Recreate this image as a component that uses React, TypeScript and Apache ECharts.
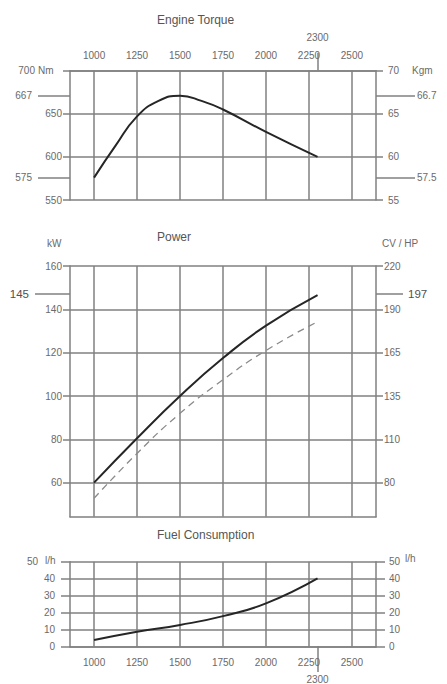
import React, { useEffect, useRef } from "react";
import * as echarts from "echarts";

// ---- data ----
const rpmTicks = [1000, 1250, 1500, 1750, 2000, 2250, 2500];
const ratedRpm = [2300];

const torqueRpm = [1000, 1125, 1250, 1375, 1500, 1625, 1750, 2000, 2300];
const torqueNm = [576, 613, 647, 665, 671, 665, 655, 629, 600];
const torqueNmTicks = [550, 600, 650, 700];
const torqueMarkPos = [671, 576];
const torqueMarkNm = ["667", "575"];
const torqueMarkKgm = ["66.7", "57.5"];

const powerRpm = [1000, 1250, 1500, 1750, 2000, 2300];
const powerKw = [60, 80.5, 100, 117.5, 132.5, 146.6];
const powerKwDashed = [52.8, 73.5, 92, 107.5, 121, 134.3];
const powerKwTicks = [60, 80, 100, 120, 140, 160];
const powerCvLabels = ["80", "110", "135", "165", "190", "220"];
const powerMarkPos = [147];
const powerMarkKw = ["145"];
const powerMarkCv = ["197"];

const fuelRpm = [1000, 1250, 1500, 1750, 2000, 2300];
const fuelLh = [3.9, 8.8, 12.8, 18, 25.5, 40.2];
const fuelTicks = [0, 10, 20, 30, 40, 50];

// ---- styles ----
const FONT = "Liberation Sans, Arial, sans-serif";
const gridLine = { color: "#808080", width: 1.5 };
const lbl = { color: "#6a6a6a", fontSize: 10, fontFamily: FONT };
const X_MIN = 860;
const X_MAX = 2640;

const zip = (a: number[], b: number[]) => a.map((v, i) => [v, b[i]]);

export default function App() {
  const ref = useRef<HTMLDivElement>(null);
  useEffect(() => {
    if (!ref.current) return;
    const chart = echarts.init(ref.current, undefined, { renderer: "svg" });

    const grids = [
      { left: 70, top: 70.7, width: 306, height: 129.3 },
      { left: 70, top: 70.7, width: 306, height: 129.3 },
      { left: 70, top: 266, width: 306, height: 250.7 },
      { left: 70, top: 266, width: 306, height: 250.7 },
      { left: 70, top: 561.7, width: 306, height: 85 },
      { left: 70, top: 561.7, width: 306, height: 85 },
    ];

    const hiddenX = (gridIndex: number) => ({
      gridIndex, type: "value", min: X_MIN, max: X_MAX, show: false,
    });

    const xAxis: any[] = [
      {
        gridIndex: 0, type: "value", position: "top", min: X_MIN, max: X_MAX,
        axisLine: { show: true, lineStyle: gridLine },
        axisTick: { show: false, customValues: rpmTicks },
        axisLabel: { ...lbl, customValues: rpmTicks, margin: 10, formatter: (v: number) => String(v) },
        splitLine: { show: true, lineStyle: gridLine },
      },
      {
        gridIndex: 1, type: "value", position: "top", min: X_MIN, max: X_MAX,
        axisLine: { show: false },
        axisTick: { show: true, customValues: ratedRpm, length: 18, lineStyle: gridLine },
        axisLabel: { ...lbl, customValues: ratedRpm, margin: 28, formatter: (v: number) => String(v) },
        splitLine: { show: false },
      },
      {
        gridIndex: 2, type: "value", position: "bottom", min: X_MIN, max: X_MAX,
        axisLine: { show: true, lineStyle: gridLine },
        axisTick: { show: false, customValues: rpmTicks },
        axisLabel: { show: false },
        splitLine: { show: true, lineStyle: gridLine },
      },
      hiddenX(3),
      {
        gridIndex: 4, type: "value", position: "bottom", min: X_MIN, max: X_MAX,
        axisLine: { show: true, lineStyle: gridLine },
        axisTick: { show: false, customValues: rpmTicks },
        axisLabel: { ...lbl, customValues: rpmTicks, margin: 11, formatter: (v: number) => String(v) },
        splitLine: { show: true, lineStyle: gridLine },
      },
      {
        gridIndex: 5, type: "value", position: "bottom", min: X_MIN, max: X_MAX,
        axisLine: { show: false },
        axisTick: { show: true, customValues: ratedRpm, length: 26, lineStyle: gridLine },
        axisLabel: { ...lbl, customValues: ratedRpm, margin: 28, formatter: (v: number) => String(v) },
        splitLine: { show: false },
      },
    ];

    const markerY = (gridIndex: number, position: string, min: number, max: number,
      values: number[], texts: string[], len: number, margin: number, big = false) => ({
      gridIndex, type: "value", position, min, max,
      axisLine: { show: false },
      axisTick: { show: true, customValues: values, length: len, lineStyle: gridLine },
      axisLabel: {
        ...lbl, ...(big ? { fontSize: 11.5, color: "#505050" } : {}),
        customValues: values, margin,
        formatter: (v: number) => texts[values.indexOf(v)] ?? "",
      },
      splitLine: { show: false },
    });

    const yAxis: any[] = [
      {
        gridIndex: 0, type: "value", position: "left", min: 550, max: 700, interval: 50,
        axisLine: { show: true, lineStyle: gridLine },
        axisTick: { show: true, length: 7, lineStyle: gridLine },
        axisLabel: {
          ...lbl, margin: 8,
          formatter: (v: number) => (v === torqueNmTicks[torqueNmTicks.length - 1] ? `{p|${v}}` : String(v)),
          rich: { p: { ...lbl, padding: [0, 27, 0, 0] } },
        },
        splitLine: { show: true, lineStyle: gridLine },
      },
      {
        gridIndex: 0, type: "value", position: "right", min: 55, max: 70, interval: 5,
        axisLine: { show: true, lineStyle: gridLine },
        axisTick: { show: true, length: 7, lineStyle: gridLine },
        axisLabel: { ...lbl, margin: 12, formatter: (v: number) => String(v) },
        splitLine: { show: false },
      },
      markerY(1, "left", 550, 700, torqueMarkPos, torqueMarkNm, 32, 38),
      markerY(1, "right", 550, 700, torqueMarkPos, torqueMarkKgm, 39, 41),
      {
        gridIndex: 2, type: "value", position: "left", min: 44.3, max: 160,
        axisLine: { show: true, lineStyle: gridLine },
        axisTick: { show: true, length: 7, customValues: powerKwTicks, lineStyle: gridLine },
        axisLabel: { ...lbl, margin: 8, customValues: powerKwTicks, formatter: (v: number) => String(v) },
        splitLine: { show: true, lineStyle: gridLine },
      },
      {
        gridIndex: 2, type: "value", position: "right", min: 44.3, max: 160,
        axisLine: { show: true, lineStyle: gridLine },
        axisTick: { show: true, length: 7, customValues: powerKwTicks, lineStyle: gridLine },
        axisLabel: {
          ...lbl, margin: 8, customValues: powerKwTicks,
          formatter: (v: number) => powerCvLabels[powerKwTicks.indexOf(v)] ?? "",
        },
        splitLine: { show: false },
      },
      markerY(3, "left", 44.3, 160, powerMarkPos, powerMarkKw, 35, 41, true),
      markerY(3, "right", 44.3, 160, powerMarkPos, powerMarkCv, 27, 32, true),
      {
        gridIndex: 4, type: "value", position: "left", min: 0, max: 50, interval: 10,
        axisLine: { show: true, lineStyle: gridLine },
        axisTick: { show: true, length: 9, lineStyle: gridLine },
        axisLabel: {
          ...lbl, margin: 15,
          formatter: (v: number) => (v === fuelTicks[fuelTicks.length - 1] ? `{p|${v}}` : String(v)),
          rich: { p: { ...lbl, padding: [0, 17, 0, 0] } },
        },
        splitLine: { show: true, lineStyle: gridLine },
      },
      {
        gridIndex: 4, type: "value", position: "right", min: 0, max: 50, interval: 10,
        axisLine: { show: true, lineStyle: gridLine },
        axisTick: { show: true, length: 9, lineStyle: gridLine },
        axisLabel: { ...lbl, margin: 13, formatter: (v: number) => String(v) },
        splitLine: { show: false },
      },
      { gridIndex: 5, type: "value", min: 0, max: 50, show: false },
    ];

    const curve = { color: "#262626", width: 2 };

    const titleStyle = { fontSize: 12, fontWeight: "normal", color: "#555", fontFamily: FONT };
    const unit = (text: string, x: number, y: number, size = 10) => ({
      type: "text", x, y, silent: true,
      style: { text, fill: "#6a6a6a", fontSize: size, fontFamily: FONT, verticalAlign: "middle" },
    });

    chart.setOption({
      animation: false,
      backgroundColor: "#ffffff",
      title: [
        { text: "Engine Torque", left: 157, top: 14, padding: 0, textStyle: titleStyle },
        { text: "Power", left: 157, top: 231, padding: 0, textStyle: titleStyle },
        { text: "Fuel Consumption", left: 157, top: 529, padding: 0, textStyle: titleStyle },
      ],
      grid: grids,
      xAxis,
      yAxis,
      graphic: [
        unit("Nm", 38, 70),
        unit("Kgm", 412, 70),
        unit("kW", 47, 243),
        unit("CV / HP", 382, 243),
        unit("l/h", 45, 560),
        unit("l/h", 405, 558),
      ],
      series: [
        {
          type: "line", xAxisIndex: 0, yAxisIndex: 0, data: zip(torqueRpm, torqueNm),
          smooth: 0.5, showSymbol: false, lineStyle: curve, silent: true,
        },
        {
          type: "line", xAxisIndex: 2, yAxisIndex: 4, data: zip(powerRpm, powerKw),
          smooth: 0.5, showSymbol: false, lineStyle: curve, silent: true,
        },
        {
          type: "line", xAxisIndex: 2, yAxisIndex: 4, data: zip(powerRpm, powerKwDashed),
          smooth: 0.5, showSymbol: false, silent: true,
          lineStyle: { color: "#8a8a8a", width: 1.3, type: [7, 5] },
        },
        {
          type: "line", xAxisIndex: 4, yAxisIndex: 8, data: zip(fuelRpm, fuelLh),
          smooth: 0.5, showSymbol: false, lineStyle: curve, silent: true,
        },
      ],
    });

    return () => chart.dispose();
  }, []);

  return (
    <div
      ref={ref}
      style={{ position: "absolute", left: 0, top: 0, width: 447, height: 684, background: "#fff" }}
    />
  );
}
